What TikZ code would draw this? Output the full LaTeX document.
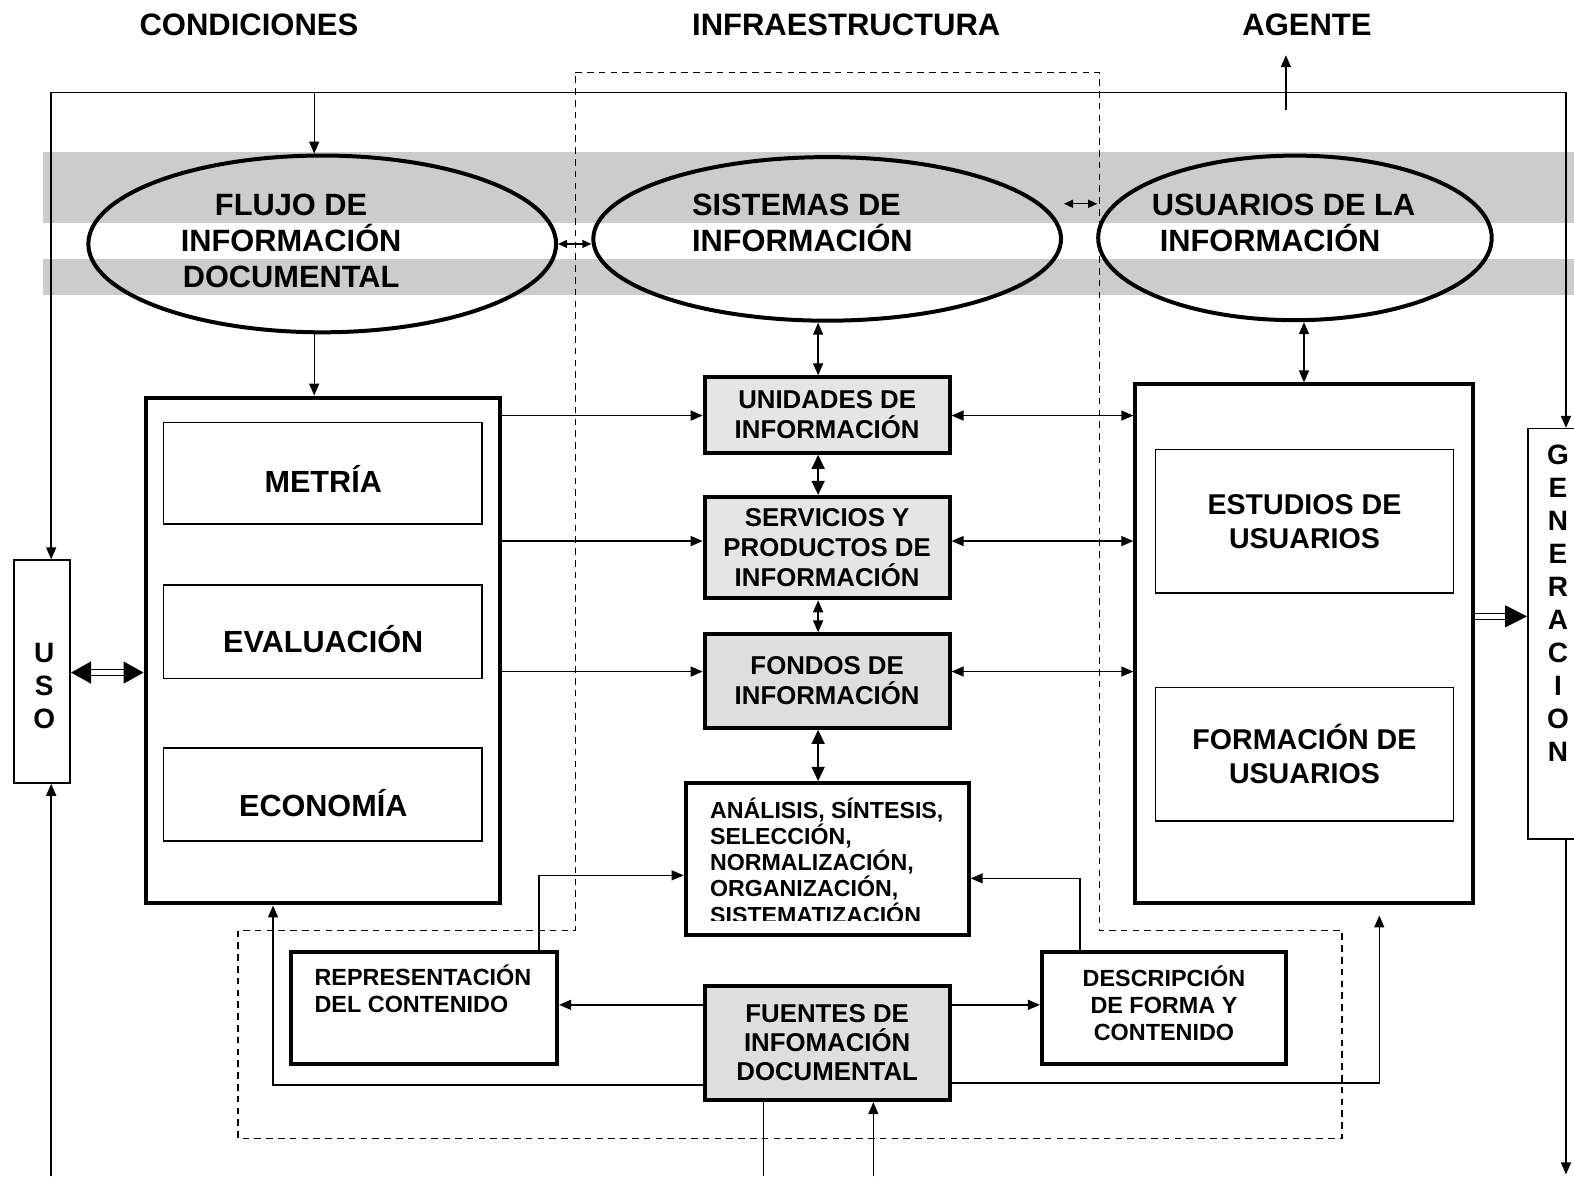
\documentclass[tikz,border=0pt]{standalone}
\usepackage{fontspec}
\setmainfont{Liberation Sans}
\usetikzlibrary{arrows.meta,fit,shapes.geometric}

\begin{document}
\begin{tikzpicture}[
  x=0.502pt, y=-0.502pt,
  band/.style={fill=black!20},
  zone/.style={draw, dashed, dash pattern=on 3.3pt off 2.6pt, line width=0.65pt},
  hdr/.style={font=\fontsize{15.5}{18}\selectfont\bfseries, inner sep=0pt},
  oval/.style={draw, ellipse, line width=2pt, inner sep=0pt},
  otxt/.style={font=\fontsize{15.4}{18}\selectfont\bfseries, align=center, inner sep=0pt},
  frame/.style={draw, line width=2pt, inner sep=0pt},
  ibox/.style={draw, line width=0.8pt, inner sep=0pt, align=center,
               minimum width=149.1pt, font=\fontsize{14.3}{17}\selectfont\bfseries},
  mtxt/.style={font=\fontsize{15.3}{18}\selectfont\bfseries, inner sep=0pt},
  cbox/.style={draw, line width=2pt, inner sep=0pt, align=center, minimum width=122.5pt,
               font=\fontsize{12.9}{15}\selectfont\bfseries},
  sbox/.style={draw, line width=2pt, inner sep=0pt, align=center,
               font=\fontsize{11.7}{13.5}\selectfont\bfseries},
  vbox/.style={draw, line width=0.8pt, inner sep=0pt},
  vtxt/.style={font=\fontsize{14}{16.5}\selectfont\bfseries, align=center, inner sep=0pt},
  arr/.style={-{Triangle[length=6pt,width=5pt]}, line width=0.7pt},
  darr/.style={{Triangle[length=6pt,width=5pt]}-{Triangle[length=6pt,width=5pt]}, line width=0.7pt},
  barr/.style={{Triangle[length=7pt,width=6.5pt]}-{Triangle[length=7pt,width=6.5pt]}, line width=0.7pt},
  sarr/.style={{Triangle[length=4.5pt,width=4pt]}-{Triangle[length=4.5pt,width=4pt]}, line width=0.7pt},
  dbl/.style={double, double distance=2.2pt, line width=0.6pt},
]
\clip (0,0) rectangle (1568,1172);

% grey bands behind the ovals
\fill[band] (43,151) rectangle (1568,222);
\fill[band] (43,258) rectangle (1568,294);

% column titles
\node[hdr] (cond)   at (248,25)  {CONDICIONES};
\node[hdr] (infra)  at (843,25)  {INFRAESTRUCTURA};
\node[hdr] (agente) at (1302,25) {AGENTE};

% infrastructure zone
\draw[zone] (573,72) -- (1095,72) -- (1095,927) -- (1337,927) -- (1337,1134)
  -- (237,1134) -- (237,927) -- (573,927) -- cycle;

% ovals
\node[oval, minimum width=233.9pt, minimum height=88.4pt] (flujo) at (321,243) {};
\node[oval, minimum width=233.9pt, minimum height=81.8pt] (sis)   at (824,238) {};
\node[oval, minimum width=196.8pt, minimum height=82.3pt] (usu)   at (1290,237) {};
\node[otxt] (flujot) at (290,240) {FLUJO DE\\INFORMACIÓN\\DOCUMENTAL};
\node[otxt, align=left, anchor=west] (sist) at (689,222) {SISTEMAS DE\\INFORMACIÓN};
\node[otxt, align=left, anchor=west] (usut) at (1147,222) {USUARIOS DE LA\\\hspace*{4pt}INFORMACIÓN};

% conditions
\node[frame, fit={(145,396) (498,900)}] (lframe) {};
\node[vbox, fit={(163,421) (480,522)}] (metria) {};
\node[vbox, fit={(163,583) (480,676)}] (evalu)  {};
\node[vbox, fit={(163,745) (480,838)}] (econ)   {};
\node[mtxt] (metriat) at (322,477) {METRÍA};
\node[mtxt] (evalut)  at (322,637) {EVALUACIÓN};
\node[mtxt] (econt)   at (322,800) {ECONOMÍA};

% infrastructure
\node[cbox, fill=black!10, minimum height=37.7pt] (uni)  at (824,413.5) {UNIDADES DE\\INFORMACIÓN};
\node[cbox, fill=black!10, minimum height=50.7pt] (serv) at (824,545.5) {SERVICIOS Y\\PRODUCTOS DE\\INFORMACIÓN};
\node[cbox, fill=black!13, minimum height=46.7pt] (fond) at (824,678.5) {FONDOS DE\\INFORMACIÓN};
\node[frame, fit={(683,780) (965,931)}] (anal) {};
\begin{scope}
  \clip (685,782) rectangle (963,916.5);
  \node[font=\fontsize{11.6}{13.15}\selectfont\bfseries, align=left, inner sep=0pt,
        anchor=north west] (analt) at (707,794)
    {ANÁLISIS, SÍNTESIS,\\SELECCIÓN,\\NORMALIZACIÓN,\\ORGANIZACIÓN,\\SISTEMATIZACIÓN};
\end{scope}
\node[cbox, fill=black!13, minimum height=57.2pt, font=\fontsize{12.9}{14.5}\selectfont\bfseries]
  (fuen) at (824,1039) {FUENTES DE\\INFOMACIÓN\\DOCUMENTAL};
\node[sbox, fit={(290,948) (555,1060)}] (repr) {};
\node[font=\fontsize{11.7}{13.5}\selectfont\bfseries, align=left, inner sep=0pt,
      anchor=north west] (reprt) at (313,961) {REPRESENTACIÓN\\DEL CONTENIDO};
\node[sbox, minimum width=122pt, minimum height=56.2pt, text depth=5pt] (descr) at (1159.5,1004)
  {DESCRIPCIÓN\\DE FORMA Y\\CONTENIDO};

% agent
\node[frame, fit={(1131,383) (1467,900)}] (rframe) {};
\node[ibox, minimum height=71.8pt] (estud) at (1299.5,519.5) {ESTUDIOS DE\\USUARIOS};
\node[ibox, minimum height=66.8pt] (forma) at (1299.5,751.5) {FORMACIÓN DE\\USUARIOS};

% use and generation
\node[vbox, fit={(14,558) (70,780)}] (uso) {};
\node[vtxt] (usot) at (44,683) {U\\S\\O};
\node[vbox, fit={(1522,427) (1600,836)}] (gen) {};
\node[vtxt] (gent) at (1552,601) {G\\E\\N\\E\\R\\A\\C\\I\\O\\N};

% top loop
\coordinate (tl) at (51,92);
\coordinate (tr) at (1560,92);
\draw[darr] (uso.north -| tl) -- (tl) -- (tr) -- (gen.north -| tr);
\draw[arr] (313,92) -- (313,0 |- flujo.north);
\coordinate (a0) at (1281,110);
\coordinate (a1) at (1281,55);
\draw[arr] (a0) -- (a1);

% between ovals
\draw[sarr] (flujo.east) -- (flujo.east -| sis.west);
\coordinate (su0) at (1060,203);
\coordinate (su1) at (1093,203);
\draw[sarr] (su0) -- (su1);

% ovals to boxes
\draw[arr] (313,0 |- flujo.south) -- (313,0 |- lframe.north);
\draw[darr] (815,0 |- sis.south) -- (815,0 |- uni.north);
\draw[darr] (1299,0 |- usu.south) -- (1299,0 |- rframe.north);

% central column
\draw[barr] (815,0 |- uni.south) -- (815,0 |- serv.north);
\draw[darr] (815,0 |- serv.south) -- (815,0 |- fond.north);
\draw[barr] (815,0 |- fond.south) -- (815,0 |- anal.north);

% conditions to infrastructure
\draw[arr] (lframe.east |- 0,414) -- (uni.west |- 0,414);
\draw[arr] (lframe.east |- 0,539) -- (serv.west |- 0,539);
\draw[arr] (lframe.east |- 0,669) -- (fond.west |- 0,669);

% infrastructure to agent
\draw[darr] (uni.east |- 0,414) -- (rframe.west |- 0,414);
\draw[darr] (serv.east |- 0,539) -- (rframe.west |- 0,539);
\draw[darr] (fond.east |- 0,669) -- (rframe.west |- 0,669);

% double links
\draw[dbl, {Triangle[length=10pt,width=11pt]}-{Triangle[length=10pt,width=11pt]}]
  (uso.east |- 0,670) -- (lframe.west |- 0,670);
\draw[dbl, -{Triangle[length=11pt,width=11pt]}]
  (rframe.east |- 0,614) -- (gen.west |- 0,614);

% sources
\draw[arr] (fuen.west |- 0,1001) -- (repr.east |- 0,1001);
\draw[arr] (fuen.east |- 0,1001) -- (descr.west |- 0,1001);
\draw[arr] (repr.north -| 537,0) |- (anal.west |- 0,872);
\draw[arr] (descr.north -| 1076,0) |- (anal.east |- 0,875);
\draw[arr] (fuen.west |- 0,1081) -| (lframe.south -| 272,0);
\coordinate (rtip) at (1374,912);
\draw[arr] (fuen.east |- 0,1079) -| (rtip);

% bottom edge
\draw (760,0 |- fuen.south) -- (760,1172);
\draw[arr] (870,1172) -- (870,0 |- fuen.south);
\draw[arr] (51,1172) -- (uso.south -| 51,0);
\draw[arr] (gen.south -| 1560,0) -- (1560,1170);

\end{tikzpicture}
\end{document}
